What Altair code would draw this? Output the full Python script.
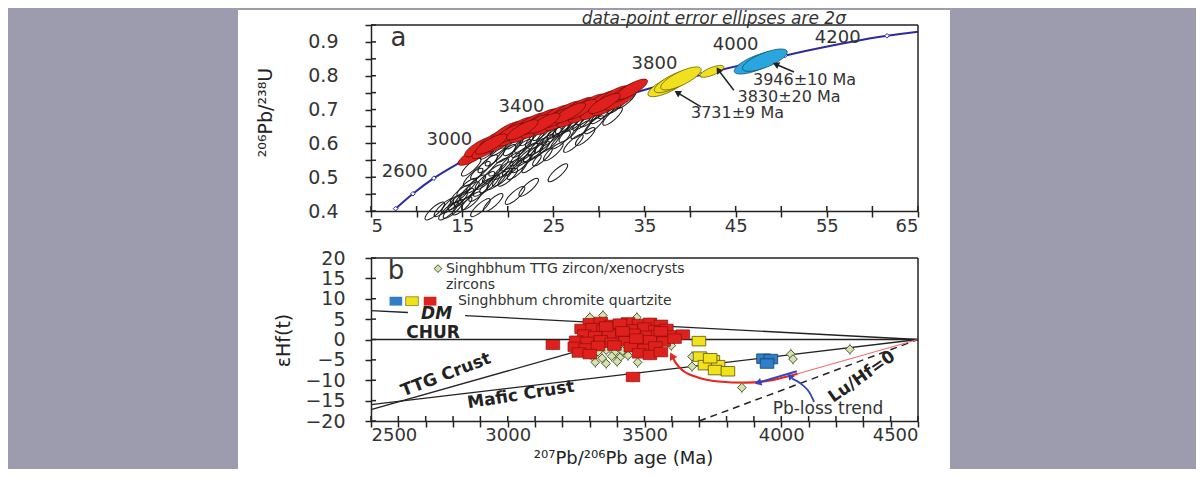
import altair as alt
import pandas as pd

FONT = "DejaVu Sans"
BG = "#9c9cae"
W, HA, HB = 547, 186, 163

# ================= Panel a : U-Pb concordia =================
conc_x = [7.7, 9.6, 11.9, 14.8, 18.2, 22.4, 27.5, 33.7, 41.2, 50.4, 61.6, 65.0]
conc_y = [0.407, 0.451, 0.497, 0.544, 0.593, 0.643, 0.695, 0.748, 0.803, 0.860, 0.918, 0.930]
conc_mark_x = [7.7, 9.6, 11.9, 14.8, 18.2, 22.4, 27.5, 33.7, 41.2, 50.4, 61.6]
conc_mark_y = [0.407, 0.451, 0.497, 0.544, 0.593, 0.643, 0.695, 0.748, 0.803, 0.860, 0.918]

age_labels = ["2600", "3000", "3400", "3800", "4000", "4200"]
age_label_x = [8.7, 13.6, 21.5, 36.1, 45.0, 56.2]
age_label_y = [0.514, 0.611, 0.707, 0.836, 0.892, 0.913]

red_ell_x = [16.3, 17.0, 17.8, 18.6, 19.3, 19.9, 20.6, 21.2, 21.9, 22.5, 23.2, 23.8,
             24.5, 25.1, 25.8, 26.4, 27.1, 27.7, 28.4, 29.0, 29.7, 30.3, 31.0, 31.6,
             32.3, 33.0, 33.6, 20.3, 22.9, 25.5, 28.0, 30.6, 26.8, 24.0, 18.2, 21.6]
red_ell_y = [0.565, 0.590, 0.585, 0.612, 0.605, 0.635, 0.622, 0.648, 0.632, 0.660, 0.645, 0.672,
             0.655, 0.683, 0.668, 0.695, 0.678, 0.706, 0.690, 0.716, 0.700, 0.726, 0.712, 0.740,
             0.728, 0.752, 0.760, 0.630, 0.655, 0.676, 0.700, 0.718, 0.690, 0.660, 0.598, 0.640]

blk_ell_x = [13.0, 13.8, 14.5, 15.2, 14.0, 15.8, 16.5, 16.2, 17.0, 17.5, 17.8, 18.3, 18.6,
             19.0, 19.4, 19.8, 20.2, 20.6, 21.0, 21.3, 21.8, 22.2, 22.6, 23.0, 23.3, 23.8,
             24.2, 24.6, 25.0, 25.4, 25.8, 26.3, 26.7, 27.2, 27.6, 28.0, 28.5, 29.0, 29.5,
             30.2, 31.0, 32.0, 33.0, 31.5, 25.5, 20.8, 18.4, 17.0, 22.3, 12.0, 16.0,
             14.8, 15.5, 16.8, 17.3, 18.0, 18.8, 19.5, 20.0, 20.5, 21.5, 22.0, 22.8, 23.5,
             24.0, 24.8, 19.2, 20.8, 22.4, 23.8, 26.0, 27.0, 28.2, 30.0, 16.0, 18.0, 21.5,
             13.5, 15.0]
blk_ell_y = [0.410, 0.420, 0.430, 0.440, 0.405, 0.460, 0.480, 0.500, 0.520, 0.490, 0.540, 0.510, 0.560,
             0.530, 0.500, 0.570, 0.545, 0.590, 0.520, 0.560, 0.600, 0.575, 0.540, 0.615, 0.590, 0.560,
             0.625, 0.600, 0.575, 0.640, 0.610, 0.655, 0.630, 0.600, 0.665, 0.640, 0.620, 0.675, 0.655,
             0.685, 0.700, 0.715, 0.730, 0.680, 0.513, 0.446, 0.425, 0.410, 0.470, 0.400, 0.430,
             0.450, 0.470, 0.455, 0.470, 0.480, 0.490, 0.520, 0.500, 0.530, 0.540, 0.560, 0.570, 0.580,
             0.600, 0.620, 0.590, 0.610, 0.620, 0.635, 0.645, 0.660, 0.665, 0.695, 0.530, 0.580, 0.585,
             0.400, 0.415]

yel_big_x = [37.6, 38.3, 39.0]
yel_big_y = [0.772, 0.784, 0.792]
yel_small_x = [42.4]
yel_small_y = [0.813]
blue_ell_x = [47.3, 48.2]
blue_ell_y = [0.838, 0.846]

age_results = ["3946±10 Ma", "3830±20 Ma", "3731±9 Ma"]
result_x = [46.9, 45.2, 40.1]
result_y = [0.786, 0.736, 0.690]
arrow_a_x1 = [51.4, 44.8, 41.2]
arrow_a_y1 = [0.811, 0.757, 0.708]
arrow_a_x2 = [49.4, 43.1, 38.6]
arrow_a_y2 = [0.834, 0.817, 0.750]

xa_ticks = [5, 10, 15, 20, 25, 30, 35, 40, 45, 50, 55, 60, 65]
ya_ticks = [0.40, 0.45, 0.50, 0.55, 0.60, 0.65, 0.70, 0.75, 0.80, 0.85, 0.90, 0.95]

# ================= Panel b : Hf isotopes =================
dm_age, dm_eps, dm_seg = [2500, 2635, 2844, 4500], [7.1, 6.62, 5.88, 0.0], [0, 0, 1, 1]
chur_age, chur_eps = [2500, 4500], [0.0, 0.0]
ttg_age, ttg_eps = [2500, 3300], [-17.2, -2.0]
mafic_age, mafic_eps = [2500, 4500], [-16.0, 0.0]
luhf_age, luhf_eps = [3700, 4500], [-20.0, 0.0]
redcurve_age = [3600, 3615, 3640, 3690, 3770, 3870, 3970, 4060]
redcurve_eps = [-4.0, -5.8, -7.6, -9.2, -10.3, -10.6, -9.9, -8.4]
pink_age, pink_eps = [4060, 4500], [-8.4, 0.0]
pbloss_age, pbloss_eps = [4057, 3915], [-7.8, -10.6]
bluecurve_age = [4120, 4105, 4075, 4040]
bluecurve_eps = [-15.3, -13.2, -11.0, -9.6]

red_sq_age = [3300, 3340, 3440, 3480, 3520, 3560, 3380,
              3270, 3310, 3350, 3400, 3450, 3500, 3540, 3580,
              3280, 3320, 3370, 3420, 3460, 3510, 3550, 3600, 3640,
              3250, 3290, 3340, 3380, 3430, 3480, 3520, 3570, 3610,
              3245, 3285, 3330, 3450, 3500, 3540,
              3260, 3300, 3480, 3520, 3560,
              3360, 3410, 3470, 3390, 3560, 3420,
              3165, 3458]
red_sq_eps = [4.0, 4.3, 4.2, 3.8, 4.1, 3.6, 3.6,
              2.6, 2.8, 2.4, 2.7, 2.5, 2.9, 2.3, 2.6,
              1.2, 0.8, 1.3, 1.0, 1.4, 0.9, 1.2, 1.0, 1.2,
              -0.3, -0.6, -0.2, -0.8, -0.4, -0.7, -0.2, -0.5, 0.2,
              -1.8, -2.2, -1.6, -1.9, -2.3, -1.7,
              -3.2, -3.6, -3.4, -3.8, -3.1,
              3.2, 3.9, 0.2, -1.5, 2.0, 2.0,
              -1.3, -9.2]
yel_sq_age = [3699, 3703, 3750, 3721, 3769, 3758, 3805, 3740]
yel_sq_eps = [-0.4, -4.2, -5.1, -6.3, -6.3, -7.5, -7.8, -4.6]
blue_sq_age = [3935, 3962, 3948]
blue_sq_eps = [-4.7, -4.8, -5.9]
grn_age = [3300, 3348, 3472, 3598,
           3300, 3330, 3360, 3390, 3420, 3310, 3345, 3380, 3410, 3440, 3320, 3360, 3400,
           3475, 3674, 3674, 4035, 4043, 4251, 3856]
grn_eps = [5.4, 5.9, 5.4, -1.5,
           -2.5, -3.0, -2.6, -3.2, -2.8, -4.2, -4.6, -4.1, -4.4, -3.9, -5.6, -5.9, -5.4,
           -5.6, -4.2, -6.6, -3.6, -4.8, -2.4, -11.8]

legend_texts = ["Singhbhum TTG zircon/xenocrysts", "zircons", "Singhbhum chromite quartzite"]
legend_text_age = [2774, 2774, 2818]
legend_text_eps = [17.4, 13.4, 9.4]

xb_ticks = list(range(2500, 4501, 100))
yb_ticks = [-20, -15, -10, -5, 0, 5, 10, 15, 20]

# ================= shapes / styles =================
ELL = "M-1,0A1,0.3,0,1,1,1,0A1,0.3,0,1,1,-1,0Z"
RECT = "M-1,-0.7L1,-0.7L1,0.7L-1,0.7Z"

axis_common = dict(domainColor="#222", domainWidth=1.5, tickColor="#222", tickWidth=1.5,
                   tickSize=6, labelFont=FONT, labelColor="#333",
                   titleFont=FONT, titleFontWeight="normal", titleColor="#222",
                   grid=False, zindex=1)

AX_A = alt.Axis(values=xa_ticks, labelExpr="datum.value % 10 == 5 ? datum.label : ''",
                title="²⁰⁷Pb/²³⁵U", titleFontSize=18, titleX=261, titleY=38,
                titleBaseline="middle", labelPadding=0, labelFontSize=18, **axis_common)
AY_A = alt.Axis(values=ya_ticks,
                labelExpr="round(datum.value*100) % 10 == 0 ? format(datum.value, '.1f') : ''",
                title="²⁰⁶Pb/²³⁸U", titleFontSize=19, titleX=-106, titleY=87, titleAngle=270,
                titleAlign="center", titleBaseline="middle", labelPadding=27, labelFontSize=19,
                **axis_common)
SX_A = alt.Scale(domain=[5, 65], nice=False, zero=False)
SY_A = alt.Scale(domain=[0.4, 0.95], nice=False, zero=False)

AX_B = alt.Axis(values=xb_ticks, format="d", labelExpr="datum.value % 500 == 0 ? datum.label : ''",
                title="²⁰⁷Pb/²⁰⁶Pb age (Ma)", titleFontSize=18, titleX=252, titleY=37,
                titleBaseline="middle", labelPadding=-1, labelFontSize=18, **axis_common)
AY_B = alt.Axis(values=yb_ticks, format="d", title="εHf(t)", titleFontSize=19,
                titleX=-88, titleY=82, titleAngle=270, titleAlign="center",
                titleBaseline="middle", labelPadding=20, labelFontSize=19, **axis_common)
SX_B = alt.Scale(domain=[2500, 4500], nice=False, zero=False)
SY_B = alt.Scale(domain=[-20, 20], nice=False, zero=False)


def XA(f="x"):
    return alt.X(f"{f}:Q", scale=SX_A, axis=AX_A)


def YA(f="y"):
    return alt.Y(f"{f}:Q", scale=SY_A, axis=AY_A)


def XB(f="x"):
    return alt.X(f"{f}:Q", scale=SX_B, axis=AX_B)


def YB(f="y"):
    return alt.Y(f"{f}:Q", scale=SY_B, axis=AY_B)


def df(xs, ys, **extra):
    d = {"x": xs, "y": ys}
    d.update(extra)
    return pd.DataFrame(d)


def backdrop(y0, y1):
    return alt.Chart(pd.DataFrame({"a": [0]})).mark_rect(color="white").encode(
        x=alt.value(-133), x2=alt.value(579), y=alt.value(y0), y2=alt.value(y1))


def frame(h):
    top = alt.Chart(pd.DataFrame({"a": [0]})).mark_rule(color="#222", strokeWidth=1.5).encode(
        x=alt.value(0), x2=alt.value(W), y=alt.value(0))
    right = alt.Chart(pd.DataFrame({"a": [0]})).mark_rule(color="#222", strokeWidth=1.5).encode(
        x=alt.value(W), y=alt.value(0), y2=alt.value(h))
    return [top, right]


def inner_ticks(X, Y, xt, yt, h):
    lx = alt.Chart(pd.DataFrame({"x": xt})).mark_rule(color="#222", strokeWidth=1.5).encode(
        x=X(), y=alt.value(h - 5), y2=alt.value(h))
    ly = alt.Chart(pd.DataFrame({"y": yt})).mark_rule(color="#222", strokeWidth=1.5).encode(
        y=Y(), x=alt.value(0), x2=alt.value(5))
    return [lx, ly]


def text_layer(X, Y, xs, ys, texts, **kw):
    base = dict(font=FONT, fontSize=17, color="#222")
    base.update(kw)
    return alt.Chart(df(xs, ys, t=texts)).mark_text(**base).encode(x=X(), y=Y(), text="t:N")


def head(X, Y, x, y, angle, color, size=60):
    return alt.Chart(df([x], [y])).mark_point(shape="triangle-up", filled=True, color=color,
                                              size=size, angle=angle, opacity=1).encode(x=X(), y=Y())


# ---------------- panel a layers ----------------
a_layers = [backdrop(-15, HA + 25)]
a_layers.append(alt.Chart(df(conc_x, conc_y)).mark_line(color="#2b2b9e", strokeWidth=2,
                                                        interpolate="monotone").encode(x=XA(), y=YA()))
a_layers.append(alt.Chart(df(conc_mark_x, conc_mark_y)).mark_point(
    shape="diamond", size=22, fill="white", stroke="#2b2b9e", strokeWidth=1, opacity=1,
    filled=False).encode(x=XA(), y=YA()))
a_layers.append(alt.Chart(df(blk_ell_x, blk_ell_y)).mark_point(
    shape=ELL, size=650, stroke="#1a1a1a", strokeWidth=1, angle=318, opacity=1,
    filled=False).encode(x=XA(), y=YA()))
a_layers.append(alt.Chart(df(red_ell_x, red_ell_y)).mark_point(
    shape=ELL, size=1300, filled=True, color="#e0201c", stroke="#5a0a08", strokeWidth=0.6,
    angle=330, opacity=1).encode(x=XA(), y=YA()))
a_layers.append(alt.Chart(df(yel_big_x, yel_big_y)).mark_point(
    shape=ELL, size=2000, filled=True, color="#f0e01e", stroke="#6a6000", strokeWidth=0.7,
    angle=334, opacity=1).encode(x=XA(), y=YA()))
a_layers.append(alt.Chart(df(yel_small_x, yel_small_y)).mark_point(
    shape=ELL, size=650, filled=True, color="#f0e01e", stroke="#6a6000", strokeWidth=0.7,
    angle=338, opacity=1).encode(x=XA(), y=YA()))
a_layers.append(alt.Chart(df(blue_ell_x, blue_ell_y)).mark_point(
    shape=ELL, size=2300, filled=True, color="#2aa6de", stroke="#124a6a", strokeWidth=0.7,
    angle=338, opacity=1).encode(x=XA(), y=YA()))
a_layers.append(alt.Chart(pd.DataFrame({"x": arrow_a_x1, "y": arrow_a_y1, "x2": arrow_a_x2,
                                        "y2": arrow_a_y2})).mark_rule(color="#222", strokeWidth=1.5).encode(
    x=XA(), y=YA(), x2=alt.X2("x2:Q"), y2=alt.Y2("y2:Q")))
a_layers.append(head(XA, YA, arrow_a_x2[0], arrow_a_y2[0], 294, "#222", 55))
a_layers.append(head(XA, YA, arrow_a_x2[1], arrow_a_y2[1], 326, "#222", 55))
a_layers.append(head(XA, YA, arrow_a_x2[2], arrow_a_y2[2], 301, "#222", 55))
a_layers.append(text_layer(XA, YA, age_label_x, age_label_y, age_labels, fontSize=18, color="#333"))
a_layers.append(text_layer(XA, YA, result_x, result_y, age_results, fontSize=16, color="#333",
                           align="left"))
a_layers.append(text_layer(XA, YA, [8.0], [0.912], ["a"], fontSize=26, color="#333"))
a_layers.append(text_layer(XA, YA, [42.6], [0.968], ["data-point error ellipses are 2σ"],
                           fontSize=17, fontStyle="italic", color="#333"))
a_layers += inner_ticks(XA, YA, xa_ticks, ya_ticks, HA)
a_layers += frame(HA)
panel_a = alt.layer(*a_layers).properties(width=W, height=HA)

# ---------------- panel b layers ----------------
b_layers = [backdrop(-25, HB + 48)]


def bline(xs, ys, seg=None, **kw):
    style = dict(color="#222", strokeWidth=1.3)
    style.update(kw)
    d = df(xs, ys, i=list(range(len(xs))), s=seg if seg is not None else [0] * len(xs))
    return alt.Chart(d).mark_line(**style).encode(x=XB(), y=YB(), order="i:Q", detail="s:N")


b_layers.append(bline(dm_age, dm_eps, seg=dm_seg))
b_layers.append(bline(chur_age, chur_eps))
b_layers.append(bline(ttg_age, ttg_eps))
b_layers.append(bline(mafic_age, mafic_eps))
b_layers.append(bline(luhf_age, luhf_eps, strokeDash=[7, 5], strokeWidth=1.5))
b_layers.append(bline(pink_age, pink_eps, color="#f07070", strokeWidth=1.2))
b_layers.append(bline(redcurve_age, redcurve_eps, color="#e8261e", strokeWidth=2.2,
                      interpolate="monotone"))
b_layers.append(head(XB, YB, 3600, -4.0, 332, "#e8261e", 70))
b_layers.append(bline(pbloss_age, pbloss_eps, color="#3344c0", strokeWidth=2))
b_layers.append(head(XB, YB, pbloss_age[1], pbloss_eps[1], 253, "#3344c0", 60))
b_layers.append(bline(bluecurve_age, bluecurve_eps, color="#3344c0", strokeWidth=1.8,
                      interpolate="monotone"))
b_layers.append(head(XB, YB, 4032, -9.0, 320, "#3344c0", 50))


def errbars(xs, ys, e):
    return alt.Chart(df(xs, ys)).transform_calculate(lo=f"datum.y - {e}", hi=f"datum.y + {e}").mark_rule(
        color="#888", strokeWidth=1).encode(x=XB(), y=YB("lo"), y2=alt.Y2("hi:Q"))


b_layers.append(errbars(grn_age, grn_eps, 1.4))
b_layers.append(errbars(red_sq_age, red_sq_eps, 1.2))
b_layers.append(errbars(yel_sq_age, yel_sq_eps, 1.0))
b_layers.append(alt.Chart(df(grn_age, grn_eps)).mark_point(
    shape="diamond", size=75, filled=True, color="#d3e2b0", stroke="#4d5a2e", strokeWidth=1,
    opacity=1).encode(x=XB(), y=YB()))
b_layers.append(alt.Chart(df(red_sq_age, red_sq_eps)).mark_point(
    shape=RECT, size=185, filled=True, color="#e0201c", stroke="#7a0d0a", strokeWidth=0.6,
    opacity=1).encode(x=XB(), y=YB()))
b_layers.append(alt.Chart(df(yel_sq_age, yel_sq_eps)).mark_point(
    shape=RECT, size=185, filled=True, color="#f2e21c", stroke="#5a5200", strokeWidth=0.8,
    opacity=1).encode(x=XB(), y=YB()))
b_layers.append(alt.Chart(df(blue_sq_age, blue_sq_eps)).mark_point(
    shape=RECT, size=185, filled=True, color="#2f7fc8", stroke="#173f6a", strokeWidth=0.8,
    opacity=1).encode(x=XB(), y=YB()))

# legend (drawn in data space)
b_layers.append(alt.Chart(df([2745], [legend_text_eps[0]])).mark_point(
    shape="diamond", size=60, filled=True, color="#d3e2b0", stroke="#4d5a2e", strokeWidth=1,
    opacity=1).encode(x=XB(), y=YB()))
b_layers.append(alt.Chart(df([2591], [legend_text_eps[2]])).mark_point(
    shape=RECT, size=160, filled=True, color="#2f7fc8", opacity=1).encode(x=XB(), y=YB()))
b_layers.append(alt.Chart(df([2650], [legend_text_eps[2]])).mark_point(
    shape=RECT, size=160, filled=True, color="#f2e21c", stroke="#5a5200", strokeWidth=0.6,
    opacity=1).encode(x=XB(), y=YB()))
b_layers.append(alt.Chart(df([2716], [legend_text_eps[2]])).mark_point(
    shape=RECT, size=160, filled=True, color="#e0201c", opacity=1).encode(x=XB(), y=YB()))
b_layers.append(text_layer(XB, YB, legend_text_age, legend_text_eps, legend_texts,
                           fontSize=14, align="left", color="#333"))
b_layers.append(text_layer(XB, YB, [2591], [16.8], ["b"], fontSize=26, color="#333"))

b_layers.append(text_layer(XB, YB, [2740], [6.3], ["DM"], fontSize=17, fontWeight="bold",
                           fontStyle="italic"))
b_layers.append(text_layer(XB, YB, [2727], [1.7], ["CHUR"], fontSize=17, fontWeight="bold"))
b_layers.append(text_layer(XB, YB, [2774], [-8.7], ["TTG Crust"], fontSize=17, fontWeight="bold",
                           angle=339))
b_layers.append(text_layer(XB, YB, [3048], [-13.6], ["Mafic Crust"], fontSize=17, fontWeight="bold",
                           angle=351))
b_layers.append(text_layer(XB, YB, [4295], [-9.2], ["Lu/Hf=0"], fontSize=17, fontWeight="bold",
                           angle=325))
b_layers.append(text_layer(XB, YB, [4171], [-17.0], ["Pb-loss trend"], fontSize=17, color="#333"))
b_layers += inner_ticks(XB, YB, xb_ticks, yb_ticks, HB)
b_layers += frame(HB)
panel_b = alt.layer(*b_layers).properties(width=W, height=HB)

chart = alt.vconcat(panel_a, panel_b, spacing=47, bounds="flush").properties(
    background=BG, padding={"left": 230, "top": 1, "right": 246, "bottom": 0}
).configure_view(strokeWidth=0)

chart.save("out.html", embed_options={"renderer": "svg", "actions": False})
